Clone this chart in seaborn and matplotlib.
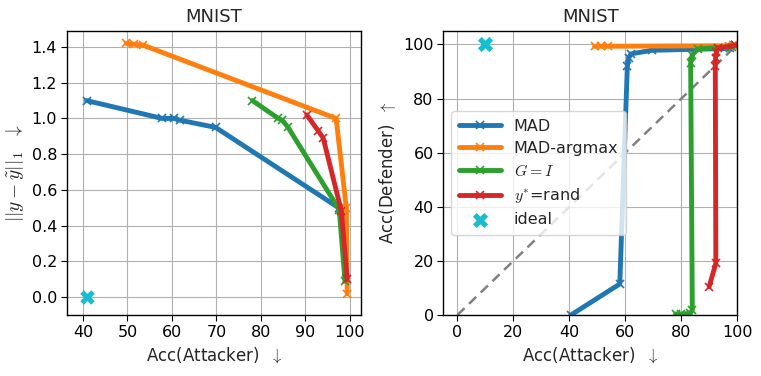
import numpy as np
import pandas as pd
import matplotlib
matplotlib.use("Agg")
import matplotlib.pyplot as plt
import seaborn as sns

sns.set_theme(style="whitegrid")
plt.rcParams['font.family'] = ['DejaVu Sans']
plt.rcParams['mathtext.fontset'] = 'cm'

# painel esquerdo: distancia L1 vs acuracia do atacante
mad_x = [40.8, 57.8, 60.5, 61.8, 69.8, 97.5]
mad_l1 = [1.10, 1.00, 1.00, 0.99, 0.95, 0.50]
argmax_x = [49.7, 51.5, 53.5, 96.9, 99.2, 99.4]
argmax_l1 = [1.42, 1.415, 1.41, 1.00, 0.50, 0.02]
gi_x = [78.1, 83.9, 84.8, 86.1, 97.6, 98.9]
gi_l1 = [1.10, 1.00, 0.99, 0.95, 0.49, 0.09]
rand_x = [90.3, 92.9, 94.0, 98.1, 99.4]
rand_l1 = [1.02, 0.93, 0.89, 0.48, 0.10]
ideal_l1 = (40.8, 0.0)

# painel direito: acuracia do defensor vs acuracia do atacante
mad_xd = [40.5, 58.0, 60.7, 61.2, 62.0, 69.5, 97.5, 99.3]
mad_def = [0.0, 11.5, 92.0, 95.0, 96.5, 97.8, 98.5, 99.5]
argmax_xd = [49.0, 51.2, 53.7, 97.0, 98.5, 99.3]
argmax_def = [99.3, 99.3, 99.3, 99.5, 99.6, 99.7]
gi_xd = [77.9, 80.0, 83.0, 83.9, 83.3, 83.8, 85.9, 98.0, 99.3]
gi_def = [0.4, 0.4, 0.6, 1.8, 93.0, 96.0, 98.3, 99.2, 99.7]
rand_xd = [89.9, 92.3, 92.1, 92.2, 92.5, 93.0, 99.3]
rand_def = [10.5, 19.1, 92.0, 95.0, 97.0, 98.5, 99.7]
ideal_def = (10.0, 100.0)

nomes = ['MAD', 'MAD-argmax', '$G = I$', '$y^{*}$=rand']
cores = ['#1f77b4', '#ff7f0e', '#2ca02c', '#d62728']

fig, (ax1, ax2) = plt.subplots(1, 2, figsize=(7.61, 3.76), dpi=100)
fig.subplots_adjust(left=0.088, right=0.969, bottom=0.162, top=0.918, wspace=0.28)

esq = [(mad_x, mad_l1), (argmax_x, argmax_l1), (gi_x, gi_l1), (rand_x, rand_l1)]
dir_ = [(mad_xd, mad_def), (argmax_xd, argmax_def), (gi_xd, gi_def), (rand_xd, rand_def)]

for (xs, ys), nome, cor in zip(esq, nomes, cores):
    sns.lineplot(x=xs, y=ys, ax=ax1, color=cor, lw=3.5, marker='x', markersize=6,
                 markeredgewidth=1.2, markeredgecolor=cor, sort=False, estimator=None)
sns.scatterplot(x=[ideal_l1[0]], y=[ideal_l1[1]], ax=ax1, marker='X', s=110,
                color='#17becf', linewidth=0)

ax2.plot([0, 100], [0, 100], ls='--', color='gray', lw=1.8, dashes=(4, 2.5))
for (xs, ys), nome, cor in zip(dir_, nomes, cores):
    sns.lineplot(x=xs, y=ys, ax=ax2, color=cor, lw=3.5, marker='x', markersize=6,
                 markeredgewidth=1.2, markeredgecolor=cor, sort=False, estimator=None,
                 label=nome)
sns.scatterplot(x=[ideal_def[0]], y=[ideal_def[1]], ax=ax2, marker='X', s=120,
                color='#17becf', linewidth=0, label='ideal')

ax1.set_xlim(36.4, 102.5)
ax1.set_ylim(-0.1, 1.49)
ax1.set_xticks([40, 50, 60, 70, 80, 90, 100])
ax1.set_yticks([0.0, 0.2, 0.4, 0.6, 0.8, 1.0, 1.2, 1.4])
ax1.set_yticklabels(['0.0', '0.2', '0.4', '0.6', '0.8', '1.0', '1.2', '1.4'])
ax1.set_ylabel(r'$||y - \tilde{y}||_1\ \ \downarrow$', fontsize=14)

ax2.set_xlim(-5, 100)
ax2.set_ylim(0, 105)
ax2.set_xticks([0, 20, 40, 60, 80, 100])
ax2.set_yticks([0, 20, 40, 60, 80, 100])
ax2.set_ylabel(r'Acc(Defender) $\ \uparrow$', fontsize=12)
leg = ax2.legend(loc='center left', fontsize=11.5, handlelength=2.6, framealpha=0.8,
                 borderpad=0.5, labelspacing=0.45)

for ax in (ax1, ax2):
    ax.set_title('MNIST', fontsize=13)
    ax.set_xlabel(r'Acc(Attacker) $\ \downarrow$', fontsize=12)
    ax.grid(True, color='#b0b0b0', lw=0.8)
    ax.set_axisbelow(True)
    for s in ax.spines.values():
        s.set_color('black')
        s.set_linewidth(1.0)
    ax.tick_params(axis='both', direction='out', length=4, width=0.8, color='black',
                   labelsize=11.5, labelcolor='black', bottom=True, left=True, pad=3)

plt.savefig('out.png', dpi=100)
